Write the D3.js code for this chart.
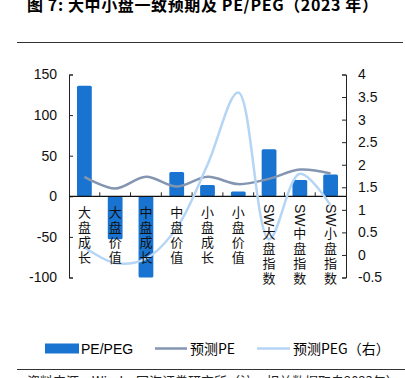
<!DOCTYPE html>
<html>
<head>
<meta charset="utf-8">
<script src="https://cdn.jsdelivr.net/npm/d3@7"></script>
<style>
  body { margin: 0; background: #fff; overflow: hidden; }
  svg { display: block; font-family: "Liberation Sans", Arial, sans-serif; }
</style>
</head>
<body>
<div id="container"></div>
<script>
var categories = ["大盘成长", "大盘价值", "中盘成长", "中盘价值", "小盘成长", "小盘价值", "SW大盘指数", "SW中盘指数", "SW小盘指数"];
var pePeg = [136, -53, -100, 30, 14, 6, 58, 20, 27];
var pe = [24, 9.5, 24, 12, 24, 15, 21.5, 33, 28];
var peg = [0.17, -0.18, -0.08, 0.6, 2.0, 3.6, 0.35, 1.8, 1.1];
var leftTicks = [150, 100, 50, 0, -50, -100];
var rightTicks = [4, 3.5, 3, 2.5, 2, 1.5, 1, 0.5, 0, -0.5];

var W = 405, H = 378;
var cjk = '"Noto Sans CJK SC", "Liberation Sans", sans-serif';

var svg = d3.select('#container').append('svg')
  .attr('width', W)
  .attr('height', H);

// title + rules
svg.append('text')
  .attr('x', 27).attr('y', 11)
  .style('font-family', cjk)
  .style('font-size', '16px')
  .style('font-weight', 'bold')
  .attr('textLength', 351)
  .text('图 7:  大中小盘一致预期及 PE/PEG（2023 年）');

svg.append('line')
  .attr('x1', 17).attr('x2', 403).attr('y1', 42.5).attr('y2', 42.5)
  .attr('stroke', '#333').attr('stroke-width', 1);

var x = d3.scaleBand().domain(categories).range([69, 346]);
var yL = d3.scaleLinear().domain([-100, 150]).range([277.5, 74.5]);
var yR = d3.scaleLinear().domain([-0.5, 4]).range([277.5, 74.5]);

// bars
svg.selectAll('.bar')
  .data(categories)
  .enter()
  .append('rect')
  .attr('class', 'bar')
  .attr('x', function(d) { return x(d) + x.bandwidth() * 0.26; })
  .attr('width', x.bandwidth() * 0.48)
  .attr('y', function(d, i) { return yL(Math.max(0, pePeg[i])); })
  .attr('height', function(d, i) { return Math.abs(yL(pePeg[i]) - yL(0)); })
  .attr('rx', 1.5)
  .attr('fill', '#1874d0');

// axes
var fmt = function(d) { return String(d); };
var leftAxis = d3.axisLeft(yL).tickValues(leftTicks).tickSizeInner(-4).tickSizeOuter(-4).tickPadding(12)
  .tickFormat(fmt);
var gL = svg.append('g').attr('transform', 'translate(69,0)').call(leftAxis);
var rightAxis = d3.axisRight(yR).tickValues(rightTicks).tickSizeInner(-4).tickSizeOuter(-4).tickPadding(12)
  .tickFormat(fmt);
var gR = svg.append('g').attr('transform', 'translate(346,0)').call(rightAxis);

[gL, gR].forEach(function(g) {
  g.selectAll('text').style('font-size', '14px').style('fill', '#111')
    .style('font-family', '"Liberation Sans", Arial, sans-serif');
  g.selectAll('line, path').attr('stroke', '#222');
});

// x axis at zero
svg.append('line')
  .attr('x1', 69).attr('x2', 346)
  .attr('y1', yL(0)).attr('y2', yL(0))
  .attr('stroke', '#111').attr('stroke-width', 1.2);

svg.selectAll('.xtick')
  .data(categories.slice(1))
  .enter()
  .append('line')
  .attr('x1', function(d) { return x(d); })
  .attr('x2', function(d) { return x(d); })
  .attr('y1', yL(0)).attr('y2', yL(0) - 4)
  .attr('stroke', '#222');

// lines
var pePath = d3.line()
  .x(function(d, i) { return x(categories[i]) + x.bandwidth() / 2; })
  .y(function(d) { return yL(d); })
  .curve(d3.curveCatmullRom.alpha(0.5));

var pegPath = d3.line()
  .x(function(d, i) { return x(categories[i]) + x.bandwidth() / 2; })
  .y(function(d) { return yR(d); })
  .curve(d3.curveCatmullRom.alpha(0.5));

svg.append('path')
  .datum(pe)
  .attr('d', pePath)
  .attr('fill', 'none')
  .attr('stroke', '#8395b1')
  .attr('stroke-width', 2.5);

svg.append('path')
  .datum(peg)
  .attr('d', pegPath)
  .attr('fill', 'none')
  .attr('stroke', '#b5d5f5')
  .attr('stroke-width', 2.5);

// vertical category labels, one char per row
categories.forEach(function(c) {
  var cx = x(c) + x.bandwidth() / 2;
  var g = svg.append('g');
  var chars = c;
  var yy = 212;
  if (c.indexOf('SW') === 0) {
    g.append('text')
      .attr('transform', 'translate(' + cx + ',204) rotate(90)')
      .attr('dy', '0.35em')
      .style('font-size', '14px')
      .style('fill', '#111')
      .text('SW');
    chars = c.slice(2);
    yy = 233;
  }
  chars.split('').forEach(function(ch, k) {
    g.append('text')
      .attr('x', cx)
      .attr('y', yy + k * 15)
      .attr('text-anchor', 'middle')
      .attr('dy', '0.35em')
      .style('font-family', cjk)
      .style('font-size', '13px')
      .style('fill', '#111')
      .text(ch);
  });
});

// legend
var legend = svg.append('g').style('font-size', '14px');
legend.append('rect').attr('x', 45).attr('y', 343.5).attr('width', 34).attr('height', 10).attr('fill', '#1874d0');
legend.append('text').attr('x', 81).attr('y', 349).attr('dy', '0.35em').text('PE/PEG');
legend.append('line').attr('x1', 155).attr('x2', 187).attr('y1', 348.5).attr('y2', 348.5)
  .attr('stroke', '#8395b1').attr('stroke-width', 2.5);
legend.append('text').attr('x', 190).attr('y', 349).attr('dy', '0.35em').style('font-family', cjk).text('预测PE');
legend.append('line').attr('x1', 257).attr('x2', 290).attr('y1', 348.5).attr('y2', 348.5)
  .attr('stroke', '#b5d5f5').attr('stroke-width', 2.5);
legend.append('text').attr('x', 293).attr('y', 349).attr('dy', '0.35em').style('font-family', cjk).text('预测PEG（右）');

// source note (cut off at bottom)
svg.append('line')
  .attr('x1', 17).attr('x2', 405).attr('y1', 369.5).attr('y2', 369.5)
  .attr('stroke', '#333');
svg.append('text')
  .attr('x', 27).attr('y', 386)
  .style('font-family', cjk)
  .style('font-size', '13px')
  .style('fill', '#222')
  .text('资料来源：Wind，国海证券研究所（注：相关数据取自2023年）');
</script>
</body>
</html>
